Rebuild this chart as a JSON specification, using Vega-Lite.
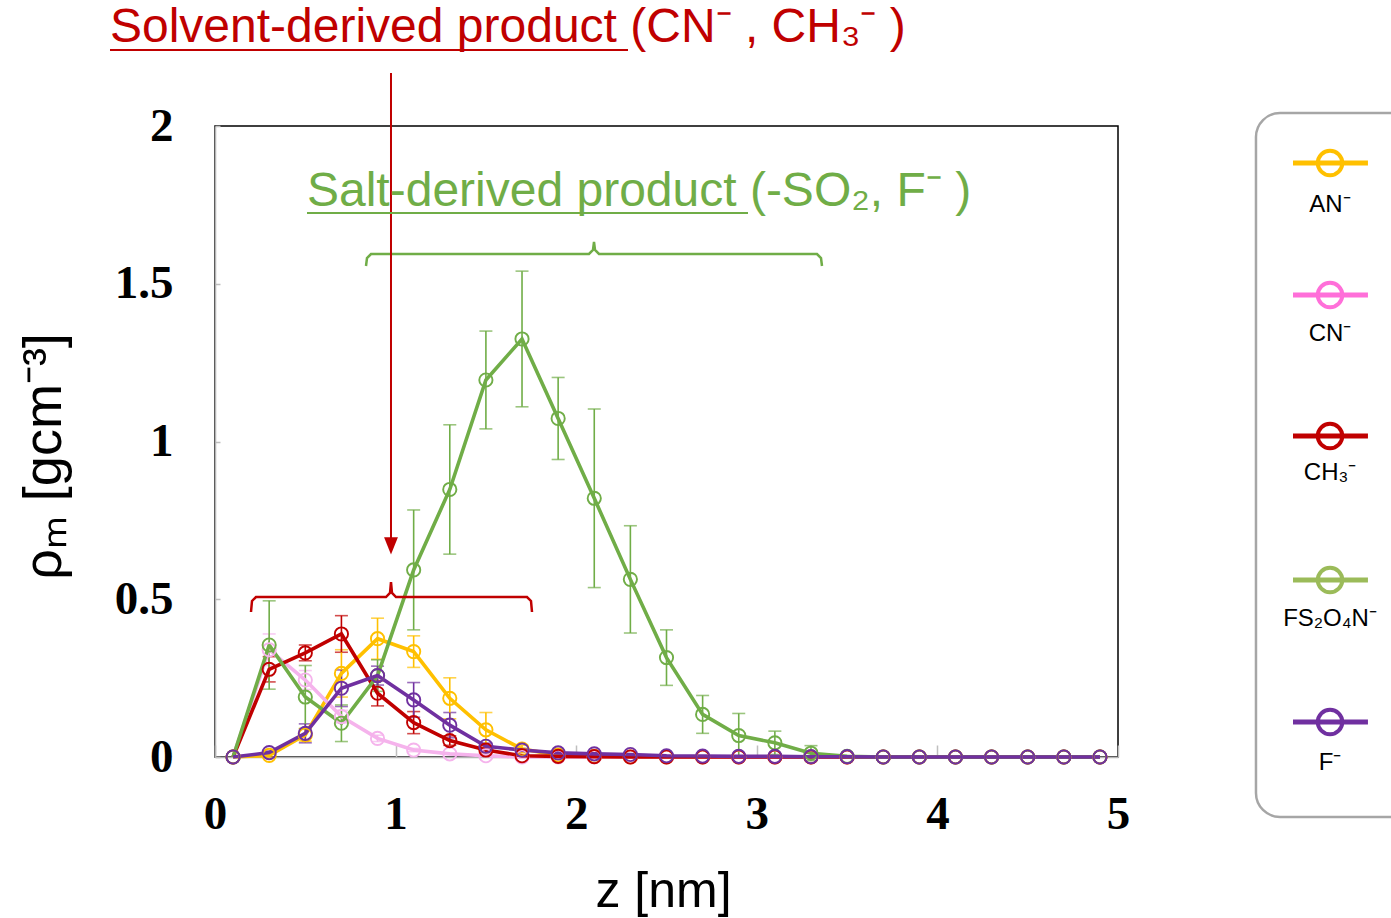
{
  "$schema": "https://vega.github.io/schema/vega-lite/v6.json",
  "width": 903,
  "height": 631,
  "autosize": {"type": "none"},
  "padding": {"left": 215, "top": 126, "right": 273, "bottom": 161},
  "background": "white",
  "config": {"view": {"stroke": "black", "strokeWidth": 1.5}, "font": "Liberation Sans"},
  "datasets": {
    "curves": [
      {"s":"AN","z":0.1,"rho":0,"err":0},{"s":"AN","z":0.3,"rho":0.005,"err":0.005},{"s":"AN","z":0.5,"rho":0.07,"err":0.02},{"s":"AN","z":0.7,"rho":0.265,"err":0.075},{"s":"AN","z":0.9,"rho":0.375,"err":0.065},{"s":"AN","z":1.1,"rho":0.334,"err":0.05},{"s":"AN","z":1.3,"rho":0.186,"err":0.065},{"s":"AN","z":1.5,"rho":0.086,"err":0.055},{"s":"AN","z":1.7,"rho":0.025,"err":0.012},{"s":"AN","z":1.9,"rho":0.006,"err":0},{"s":"AN","z":2.1,"rho":0.002,"err":0},{"s":"AN","z":2.3,"rho":0,"err":0},{"s":"AN","z":2.5,"rho":0,"err":0},{"s":"AN","z":2.7,"rho":0,"err":0},{"s":"AN","z":2.9,"rho":0,"err":0},{"s":"AN","z":3.1,"rho":0,"err":0},{"s":"AN","z":3.3,"rho":0,"err":0},{"s":"AN","z":3.5,"rho":0,"err":0},{"s":"AN","z":3.7,"rho":0,"err":0},{"s":"AN","z":3.9,"rho":0,"err":0},{"s":"AN","z":4.1,"rho":0,"err":0},{"s":"AN","z":4.3,"rho":0,"err":0},{"s":"AN","z":4.5,"rho":0,"err":0},{"s":"AN","z":4.7,"rho":0,"err":0},{"s":"AN","z":4.9,"rho":0,"err":0},
      {"s":"CN","z":0.1,"rho":0,"err":0},{"s":"CN","z":0.3,"rho":0.34,"err":0.05},{"s":"CN","z":0.5,"rho":0.244,"err":0.03},{"s":"CN","z":0.7,"rho":0.128,"err":0.02},{"s":"CN","z":0.9,"rho":0.059,"err":0.01},{"s":"CN","z":1.1,"rho":0.022,"err":0.005},{"s":"CN","z":1.3,"rho":0.01,"err":0},{"s":"CN","z":1.5,"rho":0.004,"err":0},{"s":"CN","z":1.7,"rho":0,"err":0},{"s":"CN","z":1.9,"rho":0,"err":0},{"s":"CN","z":2.1,"rho":0,"err":0},{"s":"CN","z":2.3,"rho":0,"err":0},{"s":"CN","z":2.5,"rho":0,"err":0},{"s":"CN","z":2.7,"rho":0,"err":0},{"s":"CN","z":2.9,"rho":0,"err":0},{"s":"CN","z":3.1,"rho":0,"err":0},{"s":"CN","z":3.3,"rho":0,"err":0},{"s":"CN","z":3.5,"rho":0,"err":0},{"s":"CN","z":3.7,"rho":0,"err":0},{"s":"CN","z":3.9,"rho":0,"err":0},{"s":"CN","z":4.1,"rho":0,"err":0},{"s":"CN","z":4.3,"rho":0,"err":0},{"s":"CN","z":4.5,"rho":0,"err":0},{"s":"CN","z":4.7,"rho":0,"err":0},{"s":"CN","z":4.9,"rho":0,"err":0},
      {"s":"CH3","z":0.1,"rho":0,"err":0},{"s":"CH3","z":0.3,"rho":0.278,"err":0.04},{"s":"CH3","z":0.5,"rho":0.33,"err":0.025},{"s":"CH3","z":0.7,"rho":0.39,"err":0.058},{"s":"CH3","z":0.9,"rho":0.202,"err":0.04},{"s":"CH3","z":1.1,"rho":0.109,"err":0.035},{"s":"CH3","z":1.3,"rho":0.052,"err":0.015},{"s":"CH3","z":1.5,"rho":0.022,"err":0.008},{"s":"CH3","z":1.7,"rho":0.004,"err":0},{"s":"CH3","z":1.9,"rho":0.002,"err":0},{"s":"CH3","z":2.1,"rho":0.001,"err":0},{"s":"CH3","z":2.3,"rho":0,"err":0},{"s":"CH3","z":2.5,"rho":0,"err":0},{"s":"CH3","z":2.7,"rho":0,"err":0},{"s":"CH3","z":2.9,"rho":0,"err":0},{"s":"CH3","z":3.1,"rho":0,"err":0},{"s":"CH3","z":3.3,"rho":0,"err":0},{"s":"CH3","z":3.5,"rho":0,"err":0},{"s":"CH3","z":3.7,"rho":0,"err":0},{"s":"CH3","z":3.9,"rho":0,"err":0},{"s":"CH3","z":4.1,"rho":0,"err":0},{"s":"CH3","z":4.3,"rho":0,"err":0},{"s":"CH3","z":4.5,"rho":0,"err":0},{"s":"CH3","z":4.7,"rho":0,"err":0},{"s":"CH3","z":4.9,"rho":0,"err":0},
      {"s":"FS2O4N","z":0.1,"rho":0,"err":0},{"s":"FS2O4N","z":0.3,"rho":0.355,"err":0.14},{"s":"FS2O4N","z":0.5,"rho":0.19,"err":0.1},{"s":"FS2O4N","z":0.7,"rho":0.107,"err":0.058},{"s":"FS2O4N","z":0.9,"rho":0.258,"err":0.05},{"s":"FS2O4N","z":1.1,"rho":0.593,"err":0.19},{"s":"FS2O4N","z":1.3,"rho":0.848,"err":0.205},{"s":"FS2O4N","z":1.5,"rho":1.195,"err":0.155},{"s":"FS2O4N","z":1.7,"rho":1.325,"err":0.215},{"s":"FS2O4N","z":1.9,"rho":1.073,"err":0.13},{"s":"FS2O4N","z":2.1,"rho":0.82,"err":0.283},{"s":"FS2O4N","z":2.3,"rho":0.563,"err":0.17},{"s":"FS2O4N","z":2.5,"rho":0.315,"err":0.088},{"s":"FS2O4N","z":2.7,"rho":0.135,"err":0.06},{"s":"FS2O4N","z":2.9,"rho":0.068,"err":0.07},{"s":"FS2O4N","z":3.1,"rho":0.045,"err":0.037},{"s":"FS2O4N","z":3.3,"rho":0.012,"err":0.024},{"s":"FS2O4N","z":3.5,"rho":0.002,"err":0},{"s":"FS2O4N","z":3.7,"rho":0,"err":0},{"s":"FS2O4N","z":3.9,"rho":0,"err":0},{"s":"FS2O4N","z":4.1,"rho":0,"err":0},{"s":"FS2O4N","z":4.3,"rho":0,"err":0},{"s":"FS2O4N","z":4.5,"rho":0,"err":0},{"s":"FS2O4N","z":4.7,"rho":0,"err":0},{"s":"FS2O4N","z":4.9,"rho":0,"err":0},
      {"s":"F","z":0.1,"rho":0,"err":0},{"s":"F","z":0.3,"rho":0.014,"err":0.005},{"s":"F","z":0.5,"rho":0.075,"err":0.03},{"s":"F","z":0.7,"rho":0.218,"err":0.058},{"s":"F","z":0.9,"rho":0.258,"err":0.03},{"s":"F","z":1.1,"rho":0.181,"err":0.055},{"s":"F","z":1.3,"rho":0.101,"err":0.04},{"s":"F","z":1.5,"rho":0.034,"err":0.01},{"s":"F","z":1.7,"rho":0.022,"err":0.005},{"s":"F","z":1.9,"rho":0.013,"err":0},{"s":"F","z":2.1,"rho":0.01,"err":0},{"s":"F","z":2.3,"rho":0.008,"err":0},{"s":"F","z":2.5,"rho":0.004,"err":0},{"s":"F","z":2.7,"rho":0.003,"err":0},{"s":"F","z":2.9,"rho":0.002,"err":0},{"s":"F","z":3.1,"rho":0.002,"err":0},{"s":"F","z":3.3,"rho":0.001,"err":0},{"s":"F","z":3.5,"rho":0.001,"err":0},{"s":"F","z":3.7,"rho":0,"err":0},{"s":"F","z":3.9,"rho":0,"err":0},{"s":"F","z":4.1,"rho":0,"err":0},{"s":"F","z":4.3,"rho":0,"err":0},{"s":"F","z":4.5,"rho":0,"err":0},{"s":"F","z":4.7,"rho":0,"err":0},{"s":"F","z":4.9,"rho":0,"err":0}
    ],
    "legendItems": [
      {"entry":"AN⁻","z":6.174,"zl":5.969,"zr":6.384,"rho":1.8827,"ly":1.7496},
      {"entry":"CN⁻","z":6.174,"zl":5.969,"zr":6.384,"rho":1.4643,"ly":1.3407},
      {"entry":"CH₃⁻","z":6.174,"zl":5.969,"zr":6.384,"rho":1.0174,"ly":0.9002},
      {"entry":"FS₂O₄N⁻","z":6.174,"zl":5.969,"zr":6.384,"rho":0.561,"ly":0.4374},
      {"entry":"F⁻","z":6.174,"zl":5.969,"zr":6.384,"rho":0.1109,"ly":-0.019}
    ]
  },
  "encoding": {
    "x": {
      "field": "z", "type": "quantitative",
      "scale": {"domain": [0, 5], "nice": false, "zero": false},
      "axis": {
        "values": [0, 1, 2, 3, 4, 5], "grid": false, "format": "~g",
        "labelFont": "Liberation Serif", "labelFontWeight": "bold", "labelFontSize": 47, "labelColor": "black",
        "labelBaseline": "top", "labelPadding": 46, "labelFlush": false, "labelOverlap": false,
        "tickSize": -12, "tickColor": "#BFBFBF", "tickWidth": 1.5,
        "domainColor": "#B5B5B5", "domainWidth": 1.5,
        "title": "z [nm]", "titleFont": "Liberation Sans", "titleFontSize": 50, "titleFontWeight": "normal", "titleColor": "black",
        "titleX": 448, "titleY": 149, "titleAlign": "center", "titleBaseline": "alphabetic"
      }
    },
    "y": {
      "field": "rho", "type": "quantitative",
      "scale": {"domain": [0, 2], "nice": false, "zero": false},
      "axis": {
        "values": [0, 0.5, 1, 1.5, 2], "grid": false, "format": "~g",
        "labelFont": "Liberation Serif", "labelFontWeight": "bold", "labelFontSize": 47, "labelColor": "black",
        "labelBaseline": "middle", "labelPadding": 47, "labelFlush": false, "labelOverlap": false,
        "tickSize": -5, "tickColor": "#BFBFBF", "tickWidth": 1.5,
        "domainColor": "#B5B5B5", "domainWidth": 1.5,
        "title": "ρₘ [gcm⁻³]", "titleFont": "Liberation Sans", "titleFontSize": 54, "titleFontWeight": "normal", "titleColor": "black",
        "titleX": -171, "titleY": 330, "titleAngle": -90, "titleAlign": "center", "titleBaseline": "middle"
      }
    }
  },
  "layer": [
    {
      "data": {"values": [{"z": 5.764, "z2": 6.75, "rho": 2.0412, "rho2": -0.1902}]},
      "mark": {"type": "rect", "fill": "white", "stroke": "#A6A6A6", "strokeWidth": 2.5, "cornerRadius": 24, "clip": false},
      "encoding": {"x2": {"field": "z2"}, "y2": {"field": "rho2"}}
    },
    {
      "data": {"name": "curves"},
      "transform": [{"filter": "datum.err > 0"}],
      "mark": {"type": "errorbar", "ticks": {"size": 13, "thickness": 1.6}, "rule": {"strokeWidth": 1.6}},
      "encoding": {
        "yError": {"field": "err"},
        "color": {"field": "s", "type": "nominal", "legend": null,
          "scale": {"domain": ["AN", "CN", "CH3", "FS2O4N", "F"], "range": ["#FFC000", "#F5B3EC", "#C00000", "#70AD47", "#7030A0"]}}
      }
    },
    {
      "data": {"name": "curves"},
      "mark": {"type": "line", "strokeWidth": 3.6},
      "encoding": {
        "color": {"field": "s", "type": "nominal", "legend": null,
          "scale": {"domain": ["AN", "CN", "CH3", "FS2O4N", "F"], "range": ["#FFC000", "#F5B3EC", "#C00000", "#70AD47", "#7030A0"]}}
      }
    },
    {
      "data": {"name": "curves"},
      "mark": {"type": "point", "shape": "circle", "filled": false, "size": 175, "strokeWidth": 1.9, "opacity": 1},
      "encoding": {
        "color": {"field": "s", "type": "nominal", "legend": null,
          "scale": {"domain": ["AN", "CN", "CH3", "FS2O4N", "F"], "range": ["#FFC000", "#F5B3EC", "#C00000", "#70AD47", "#7030A0"]}}
      }
    },
    {
      "data": {"values": [
        {"i":0,"z":0.1993,"rho":0.4596},{"i":1,"z":0.2049,"rho":0.4945},{"i":2,"z":0.227,"rho":0.5071},{"i":3,"z":0.9468,"rho":0.5071},{"i":4,"z":0.969,"rho":0.5198},{"i":5,"z":0.9745,"rho":0.5547},{"i":6,"z":0.9801,"rho":0.5198},{"i":7,"z":1.0022,"rho":0.5071},{"i":8,"z":1.7276,"rho":0.5071},{"i":9,"z":1.7497,"rho":0.4945},{"i":10,"z":1.7553,"rho":0.4596}
      ]},
      "mark": {"type": "line", "color": "#C00000", "strokeWidth": 2.5, "clip": false},
      "encoding": {"order": {"field": "i", "type": "quantitative"}}
    },
    {
      "data": {"values": [
        {"i":0,"z":0.8361,"rho":1.5563},{"i":1,"z":0.8416,"rho":1.5816},{"i":2,"z":0.8638,"rho":1.5943},{"i":3,"z":2.0709,"rho":1.5943},{"i":4,"z":2.093,"rho":1.607},{"i":5,"z":2.0986,"rho":1.6323},{"i":6,"z":2.1041,"rho":1.607},{"i":7,"z":2.1262,"rho":1.5943},{"i":8,"z":3.3333,"rho":1.5943},{"i":9,"z":3.3555,"rho":1.5816},{"i":10,"z":3.361,"rho":1.5563}
      ]},
      "mark": {"type": "line", "color": "#70AD47", "strokeWidth": 2.5, "clip": false},
      "encoding": {"order": {"field": "i", "type": "quantitative"}}
    },
    {
      "data": {"values": [{"z": 0.9745, "rho": 2.168, "rho2": 0.69}]},
      "mark": {"type": "rule", "color": "#C00000", "strokeWidth": 2, "clip": false},
      "encoding": {"y2": {"field": "rho2"}}
    },
    {
      "data": {"values": [{"z": 0.9745, "rho": 0.669}]},
      "mark": {"type": "point", "shape": "M -0.8 -1 L 0.8 -1 L 0 1 Z", "filled": true, "color": "#C00000", "size": 300, "opacity": 1, "clip": false}
    },
    {
      "data": {"values": [{"z": -0.5814, "z2": 2.2868, "rho": 2.2409}]},
      "mark": {"type": "rule", "color": "#C00000", "strokeWidth": 2, "clip": false},
      "encoding": {"x2": {"field": "z2"}}
    },
    {
      "data": {"values": [{"z": 0.5094, "z2": 2.9513, "rho": 1.7242}]},
      "mark": {"type": "rule", "color": "#70AD47", "strokeWidth": 2, "clip": false},
      "encoding": {"x2": {"field": "z2"}}
    },
    {
      "data": {"values": [{"z": -0.5814, "rho": 2.2662, "t": "Solvent-derived product (CN⁻ , CH₃⁻ )"}]},
      "mark": {"type": "text", "align": "left", "baseline": "alphabetic", "fontSize": 48, "font": "Liberation Sans", "color": "#C00000", "clip": false},
      "encoding": {"text": {"field": "t"}}
    },
    {
      "data": {"values": [{"z": 0.5094, "rho": 1.7464, "t": "Salt-derived product (-SO₂, F⁻ )"}]},
      "mark": {"type": "text", "align": "left", "baseline": "alphabetic", "fontSize": 48, "font": "Liberation Sans", "color": "#70AD47", "clip": false},
      "encoding": {"text": {"field": "t"}}
    },
    {
      "data": {"name": "legendItems"},
      "mark": {"type": "rule", "strokeWidth": 5, "clip": false},
      "encoding": {
        "x": {"field": "zl", "type": "quantitative", "scale": {"domain": [0, 5], "nice": false, "zero": false}},
        "x2": {"field": "zr"},
        "color": {"field": "entry", "type": "nominal", "legend": null,
          "scale": {"domain": ["AN⁻", "CN⁻", "CH₃⁻", "FS₂O₄N⁻", "F⁻"], "range": ["#FFC000", "#FF6FD9", "#C00000", "#9BBB59", "#7030A0"]}}
      }
    },
    {
      "data": {"name": "legendItems"},
      "mark": {"type": "point", "shape": "circle", "filled": false, "size": 600, "strokeWidth": 4, "opacity": 1, "clip": false},
      "encoding": {
        "color": {"field": "entry", "type": "nominal", "legend": null,
          "scale": {"domain": ["AN⁻", "CN⁻", "CH₃⁻", "FS₂O₄N⁻", "F⁻"], "range": ["#FFC000", "#FF6FD9", "#C00000", "#9BBB59", "#7030A0"]}}
      }
    },
    {
      "data": {"name": "legendItems"},
      "mark": {"type": "text", "align": "center", "baseline": "middle", "fontSize": 24, "font": "Liberation Sans", "color": "black", "clip": false},
      "encoding": {
        "y": {"field": "ly", "type": "quantitative", "scale": {"domain": [0, 2], "nice": false, "zero": false}},
        "text": {"field": "entry"}
      }
    }
  ],
  "resolve": {"scale": {"color": "independent"}}
}
